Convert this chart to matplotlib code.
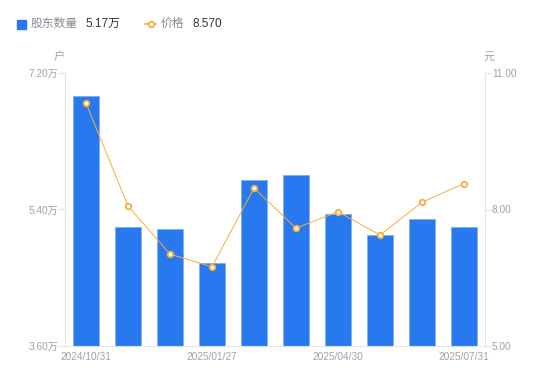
import matplotlib
matplotlib.use("Agg")
import matplotlib.pyplot as plt
import numpy as np

plt.rcParams['font.family'] = ['Liberation Sans', 'Noto Sans CJK SC', 'DejaVu Sans']

dates = ["2024/10/31", "2024/11/29", "2024/12/31", "2025/01/27", "2025/02/28",
         "2025/03/31", "2025/04/30", "2025/05/30", "2025/06/30", "2025/07/31"]
holders = [6.90, 5.17, 5.14, 4.69, 5.79, 5.85, 5.34, 5.06, 5.27, 5.17]  # 万户
price = [10.34, 8.08, 7.02, 6.74, 8.47, 7.59, 7.95, 7.44, 8.16, 8.57]
left_ticks = [3.60, 5.40, 7.20]
right_ticks = [5.00, 8.00, 11.00]
shown_dates = ["2024/10/31", "2025/01/27", "2025/04/30", "2025/07/31"]

BAR = "#2878F0"
ORANGE = "#F7AE3A"
GRID = "#E3E3E8"
TXT = "#A0A0AE"

fig = plt.figure(figsize=(5.5, 3.81), dpi=100)
ax = fig.add_axes([65/550, 35/381, 420/550, 273/381])
x = np.arange(len(dates))
ax.bar(x, holders, width=0.6, color=BAR, edgecolor="#7FAEF5", linewidth=0.6, zorder=2)
ax.set_xlim(-0.5, len(dates) - 0.5)
ax.set_ylim(left_ticks[0], left_ticks[-1])
ax.set_yticks(left_ticks)
ax.set_yticklabels([f"{v:.2f}万" for v in left_ticks])
ax.set_xticks([dates.index(d) for d in shown_dates])
ax.set_xticklabels(shown_dates)

ax2 = ax.twinx()
ax2.plot(x, price, color=ORANGE, linewidth=0.7, marker="o", markersize=4,
         markerfacecolor="white", markeredgecolor=ORANGE, markeredgewidth=1.3, zorder=3)
ax2.set_ylim(right_ticks[0], right_ticks[-1])
ax2.set_yticks(right_ticks)
ax2.set_yticklabels([f"{v:.2f}" for v in right_ticks])

for a in (ax, ax2):
    for s in a.spines.values():
        s.set_visible(False)
ax.spines['left'].set_visible(True)
ax.spines['left'].set_color(GRID)
ax.spines['bottom'].set_visible(True)
ax.spines['bottom'].set_color(GRID)
ax2.spines['right'].set_visible(True)
ax2.spines['right'].set_color(GRID)

ax.tick_params(axis='y', colors=GRID, labelcolor=TXT, labelsize=7.3, length=4, width=0.8, pad=1)
ax.tick_params(axis='x', length=0, labelcolor=TXT, labelsize=7.3, pad=4)
ax2.tick_params(axis='y', colors=GRID, labelcolor=TXT, labelsize=7.3, length=4, width=0.8, pad=1)

fig.text(59/550, 1 - 57/381, "户", ha="center", va="center", color=TXT, fontsize=8)
fig.text(489/550, 1 - 57/381, "元", ha="center", va="center", color=TXT, fontsize=8)

# legend
ly = 1 - 24/381
fig.patches.append(matplotlib.patches.Rectangle((17/550, ly - 4.5/381), 9/550, 9/381,
                   transform=fig.transFigure, color=BAR, figure=fig))
fig.text(31/550, ly, "股东数量", ha="left", va="center", color="#8A8A96", fontsize=8.5)
fig.text(85/550, ly, f"{holders[-1]:.2f}万", ha="left", va="center", color="#333333", fontsize=8.5)
fig.lines.append(matplotlib.lines.Line2D([145/550, 156/550], [ly, ly], transform=fig.transFigure,
                 color=ORANGE, linewidth=1.2, figure=fig))
fig.lines.append(matplotlib.lines.Line2D([150.5/550], [ly], transform=fig.transFigure,
                 color=ORANGE, marker="o", markersize=4, markerfacecolor="white",
                 markeredgewidth=1.3, linestyle="none", figure=fig))
fig.text(161/550, ly, "价格", ha="left", va="center", color="#8A8A96", fontsize=8.5)
fig.text(192/550, ly, f"{price[-1]:.3f}", ha="left", va="center", color="#333333", fontsize=8.5)

fig.savefig("out.png", dpi=100)
